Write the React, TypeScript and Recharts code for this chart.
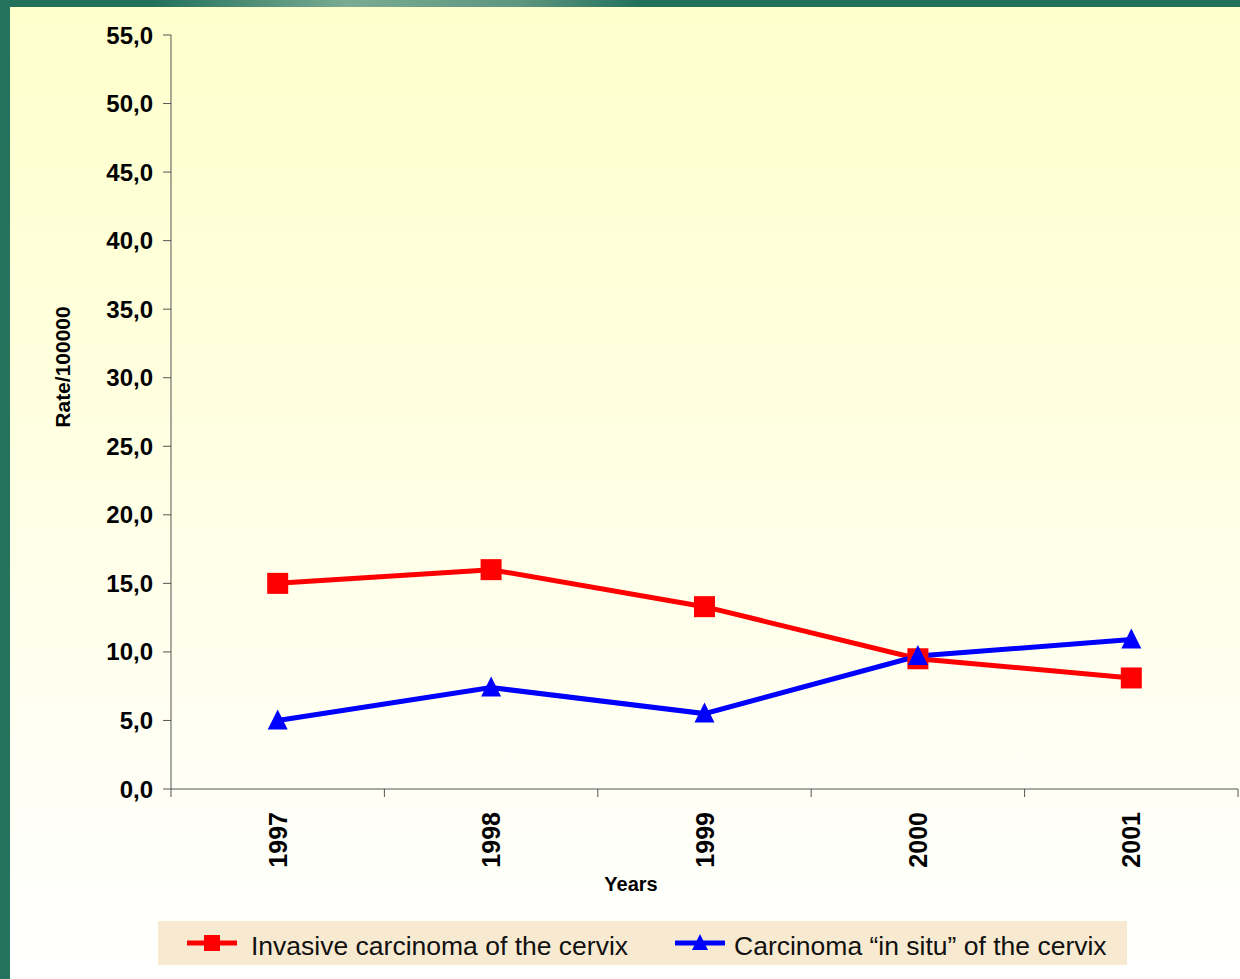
import React from 'react';
import { LineChart, Line, XAxis, YAxis } from 'recharts';

// values (rate per 100000)
const years = ['1997', '1998', '1999', '2000', '2001'];
const invasive = [15.0, 16.0, 13.3, 9.5, 8.1];
const inSitu = [5.0, 7.4, 5.5, 9.7, 10.9];
const yTicks = [0, 5, 10, 15, 20, 25, 30, 35, 40, 45, 50, 55];
const boundaryTicks = [-0.5, 0.5, 1.5, 2.5, 3.5, 4.5];
const centerTicks = [0, 1, 2, 3, 4];

const FONT = '"Liberation Sans", Arial, sans-serif';
const RED = '#ff0000';
const BLUE = '#0000ff';

const series = [
  { key: 'invasive', name: 'Invasive carcinoma of the cervix', color: RED, marker: 'square' },
  { key: 'inSitu', name: 'Carcinoma \u201cin situ\u201d of the cervix', color: BLUE, marker: 'triangle' },
];
const legendLeft = [29, 517];

const data = years.map((year, i) => ({
  idx: i,
  year,
  invasive: invasive[i],
  inSitu: inSitu[i],
}));

function Marker({ type, cx, cy, color, size }: { type: string; cx: number; cy: number; color: string; size: number }) {
  const h = size / 2;
  if (type === 'square') {
    return <rect x={cx - h} y={cy - h} width={size} height={size} fill={color} />;
  }
  return <polygon points={`${cx},${cy - h - 1} ${cx - h},${cy + h - 1} ${cx + h},${cy + h - 1}`} fill={color} />;
}

const fmt = (v: number) => v.toFixed(1).replace('.', ',');

function YearTick(props: any) {
  const { x, y, payload } = props;
  return (
    <text
      transform={`translate(${x},${y + 15}) rotate(-90)`}
      textAnchor="end"
      dominantBaseline="central"
      fontFamily={FONT}
      fontWeight="bold"
      fontSize={25}
      fill="#000"
    >
      {years[payload.value]}
    </text>
  );
}

export default function App() {
  return (
    <div
      style={{
        position: 'absolute',
        left: 0,
        top: 0,
        width: 1240,
        height: 979,
        overflow: 'hidden',
        background: 'linear-gradient(90deg, #21705a 0%, #21705a 12%, #7aab93 28%, #5e9680 42%, #21705a 52%, #21705a 100%)',
      }}
    >
      <div style={{ position: 'absolute', left: 0, top: 0, width: 10, height: 979, background: '#25735c' }} />
      <div
        style={{
          position: 'absolute',
          left: 10,
          top: 7,
          width: 1230,
          height: 972,
          background: 'linear-gradient(180deg, #ffffcc 0%, #ffffe2 45%, #fffff6 80%, #ffffff 100%)',
        }}
      />
      <LineChart
        width={1240}
        height={979}
        data={data}
        margin={{ top: 35, right: 2, left: 0, bottom: 0 }}
        style={{ position: 'absolute', left: 0, top: 0 }}
      >
        <YAxis
          width={171}
          domain={[0, 55]}
          ticks={yTicks}
          interval={0}
          tickFormatter={fmt}
          tickSize={8}
          tickMargin={10}
          stroke="#555"
          tick={{ fontFamily: FONT, fontWeight: 'bold', fontSize: 24, fill: '#000' }}
          label={{
            content: () => (
              <text
                transform="translate(62,367) rotate(-90)"
                textAnchor="middle"
                dominantBaseline="central"
                fontFamily={FONT}
                fontWeight="bold"
                fontSize={21}
                fill="#000"
              >
                Rate/100000
              </text>
            ),
          }}
        />
        <XAxis
          xAxisId="bounds"
          type="number"
          dataKey="idx"
          domain={[-0.5, 4.5]}
          ticks={boundaryTicks}
          interval={0}
          tickSize={8}
          height={8}
          stroke="#555"
          tick={() => <g />}
        />
        <XAxis
          xAxisId="years"
          type="number"
          dataKey="idx"
          domain={[-0.5, 4.5]}
          ticks={centerTicks}
          interval={0}
          height={182}
          tickSize={0}
          tickMargin={0}
          axisLine={false}
          tickLine={false}
          tick={<YearTick />}
          label={{
            content: () => (
              <text
                x={631}
                y={884}
                textAnchor="middle"
                dominantBaseline="central"
                fontFamily={FONT}
                fontWeight="bold"
                fontSize={20}
                fill="#000"
              >
                Years
              </text>
            ),
          }}
        />
        {series.map((s) => (
          <Line
            key={s.key}
            xAxisId="bounds"
            dataKey={s.key}
            name={s.name}
            type="linear"
            stroke={s.color}
            strokeWidth={5}
            isAnimationActive={false}
            activeDot={false}
            dot={(p: any) => (
              <Marker key={`${s.key}-${p.index}`} type={s.marker} cx={p.cx} cy={p.cy} color={s.color} size={s.marker === 'square' ? 21 : 20} />
            )}
          />
        ))}
      </LineChart>
      <div
        style={{
          position: 'absolute',
          left: 158,
          top: 921,
          width: 969,
          height: 44,
          background: '#f8ead0',
          fontFamily: FONT,
          fontSize: 26.5,
          color: '#111',
        }}
      >
        {series.map((s, i) => (
          <div
            key={s.key}
            style={{ position: 'absolute', left: legendLeft[i], top: 3, height: 44, display: 'flex', alignItems: 'center' }}
          >
            <svg width={50} height={20} style={{ marginRight: i === 0 ? 14 : 9, marginTop: -6 }}>
              <line x1={0} y1={10} x2={50} y2={10} stroke={s.color} strokeWidth={5} />
              <Marker type={s.marker} cx={25} cy={10} color={s.color} size={16} />
            </svg>
            <span style={{ whiteSpace: 'nowrap' }}>{s.name}</span>
          </div>
        ))}
      </div>
    </div>
  );
}
